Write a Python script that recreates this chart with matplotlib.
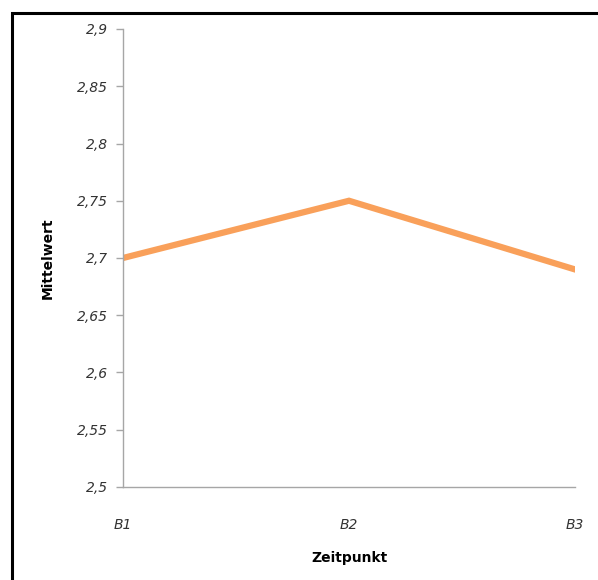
import matplotlib
matplotlib.use("Agg")
import matplotlib.pyplot as plt
from matplotlib.patches import Rectangle
from matplotlib.ticker import FuncFormatter

zeitpunkte = ["B1", "B2", "B3"]
mittelwerte = [2.70, 2.75, 2.69]
y_ticks = [2.5, 2.55, 2.6, 2.65, 2.7, 2.75, 2.8, 2.85, 2.9]

plt.rcParams["font.family"] = ["DejaVu Sans"]

fig = plt.figure(figsize=(5.98, 5.80), dpi=100)
fig.patch.set_facecolor("white")

# outer frame around the chart area
fig.patches.append(Rectangle((12 / 598, -0.05), 1.2, (580 - 13) / 580 + 0.05,
                             transform=fig.transFigure, fill=False,
                             edgecolor="black", linewidth=2.2))

ax = fig.add_axes([123 / 598, (580 - 487) / 580, (575 - 123) / 598, (487 - 29) / 580])
x = list(range(len(zeitpunkte)))
ax.plot(x, mittelwerte, color="#F9A05A", linewidth=4.5, solid_joinstyle="miter")

ax.set_xlim(0, len(zeitpunkte) - 1)
ax.set_ylim(2.5, 2.9)
ax.set_xticks(x)
ax.set_xticklabels(zeitpunkte)
ax.set_yticks(y_ticks)
ax.yaxis.set_major_formatter(FuncFormatter(lambda v, p: f"{v:g}".replace(".", ",")))

for side in ["top", "right"]:
    ax.spines[side].set_visible(False)
for side in ["left", "bottom"]:
    ax.spines[side].set_color("#A6A6A6")
    ax.spines[side].set_linewidth(1.0)

ax.tick_params(axis="y", length=5, width=1, color="#A6A6A6", pad=6,
               labelsize=10, labelcolor="#333333")
ax.tick_params(axis="x", length=0, pad=22, labelsize=10, labelcolor="#333333")
for lab in ax.get_xticklabels() + ax.get_yticklabels():
    lab.set_fontstyle("italic")

ax.set_ylabel("Mittelwert", fontsize=10, fontweight="bold", labelpad=16)
ax.set_xlabel("Zeitpunkt", fontsize=10, fontweight="bold", labelpad=14)

fig.savefig("out.png", dpi=100)
